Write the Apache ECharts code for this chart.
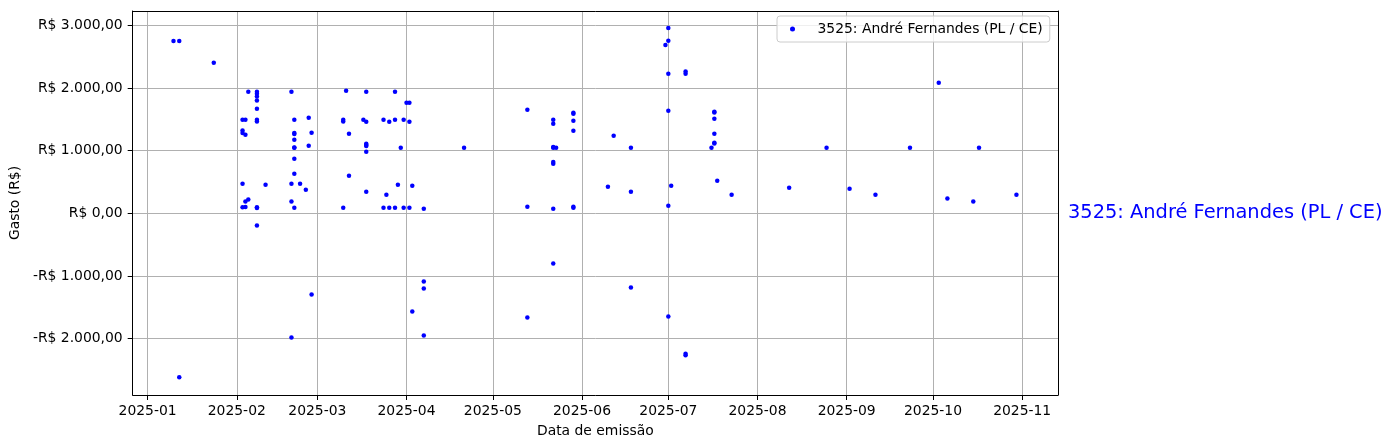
<!DOCTYPE html>
<html><head><meta charset="utf-8">
<script src="https://cdn.jsdelivr.net/npm/echarts@6/dist/echarts.min.js"></script>
<style>html,body{margin:0;padding:0;background:#fff}#c{width:1392px;height:448px}</style>
</head><body><div id="c"></div>
<script>
const seriesName = '3525: André Fernandes (PL / CE)';
const xAxisTitle = 'Data de emissão';
const yAxisTitle = 'Gasto (R$)';

const emissionDates = [
  '2025-01-10','2025-01-12','2025-01-12','2025-01-24',
  '2025-02-03','2025-02-03','2025-02-03','2025-02-03','2025-02-03',
  '2025-02-04','2025-02-04','2025-02-04','2025-02-04',
  '2025-02-05','2025-02-05',
  '2025-02-08','2025-02-08','2025-02-08','2025-02-08','2025-02-08','2025-02-08','2025-02-08','2025-02-08','2025-02-08','2025-02-08',
  '2025-02-11',
  '2025-02-20','2025-02-20','2025-02-20','2025-02-20',
  '2025-02-21','2025-02-21','2025-02-21','2025-02-21','2025-02-21','2025-02-21','2025-02-21','2025-02-21','2025-02-21',
  '2025-02-23','2025-02-25','2025-02-26','2025-02-26','2025-02-27','2025-02-27',
  '2025-03-10','2025-03-10','2025-03-10','2025-03-11','2025-03-12','2025-03-12','2025-03-17',
  '2025-03-18','2025-03-18','2025-03-18','2025-03-18','2025-03-18','2025-03-18','2025-03-18',
  '2025-03-24','2025-03-24','2025-03-25','2025-03-26','2025-03-26',
  '2025-03-28','2025-03-28','2025-03-28','2025-03-29','2025-03-30','2025-03-31','2025-03-31',
  '2025-04-01','2025-04-02','2025-04-02','2025-04-02','2025-04-03','2025-04-03',
  '2025-04-07','2025-04-07','2025-04-07','2025-04-07','2025-04-21',
  '2025-05-13','2025-05-13','2025-05-13',
  '2025-05-22','2025-05-22','2025-05-22','2025-05-22','2025-05-22','2025-05-22','2025-05-22','2025-05-22','2025-05-23',
  '2025-05-29','2025-05-29','2025-05-29','2025-05-29','2025-05-29','2025-05-29',
  '2025-06-10','2025-06-12','2025-06-18','2025-06-18','2025-06-18','2025-06-30',
  '2025-07-01','2025-07-01','2025-07-01','2025-07-01','2025-07-01','2025-07-01','2025-07-02',
  '2025-07-07','2025-07-07','2025-07-07','2025-07-07','2025-07-16',
  '2025-07-17','2025-07-17','2025-07-17','2025-07-17','2025-07-17','2025-07-17',
  '2025-07-18','2025-07-23','2025-08-12','2025-08-25','2025-09-02','2025-09-11','2025-09-23',
  '2025-10-03','2025-10-06','2025-10-15','2025-10-17','2025-10-30'
];
const spendValues = [
  2750,2750,-2618,2400,
  1492,1322,1280,473,96,
  1492,1253,186,101,
  1938,218,
  1938,1906,1864,1800,1667,1492,1466,96,85,-196,
  457,
  1938,473,186,-1981,
  1492,1280,1264,1174,1051,1046,871,632,90,
  473,377,1524,1078,1285,-1296,
  1492,1466,90,1954,600,1269,1492,
  1938,1460,1110,1089,1073,982,345,
  1492,90,297,1460,90,
  1938,1492,90,457,1046,1492,90,
  1763,1763,1460,90,441,-1566,
  74,-1089,-1200,-1949,1046,
  1651,106,-1662,
  1492,1428,1057,1046,818,791,74,-802,1046,
  1603,1588,1476,1317,106,90,
  425,1237,1046,345,-1184,2687,
  2958,2751,2225,1635,122,-1646,441,
  2262,2225,-2240,-2265,1046,
  1620,1610,1508,1269,1126,1115,
  520,297,409,1046,393,297,1046,
  2082,234,186,1046,297
];
const yTickValues = [-2000,-1000,0,1000,2000,3000];

const DAY = 86400000;
function ts(s){ const p = s.split('-').map(Number); return new Date(p[0], p[1]-1, p[2] || 1).getTime(); }
const points = emissionDates.map((d,i) => [ts(d), spendValues[i]]);
const xMin = ts('2025-01-01') - 5.19*DAY;
const xMax = ts('2025-01-01') + 316.45*DAY;
const yMin = -2899.5, yMax = 3227.6;

function brl(v){
  const a = Math.abs(v);
  const s = a.toFixed(2).split('.');
  const int = s[0].replace(/\B(?=(\d{3})+(?!\d))/g, '.');
  return (v < 0 ? '-R$ ' : 'R$ ') + int + ',' + s[1];
}
function ym(v){ const d = new Date(v); return d.getFullYear() + '-' + String(d.getMonth()+1).padStart(2,'0'); }

const FONT = 'DejaVu Sans';
const chart = echarts.init(document.getElementById('c'), null, {renderer:'canvas'});
chart.setOption({
  animation: false,
  backgroundColor: '#fff',
  grid: { left: 128, right: 334, top: 11, bottom: 53, containLabel: false },
  legend: {
    data: [{ name: seriesName, icon: 'circle' }],
    left: 777, top: 16,
    padding: [5, 7, 5, 13],
    itemWidth: 10, itemHeight: 5,
    backgroundColor: 'rgba(255,255,255,0.8)',
    borderColor: '#cccccc', borderWidth: 1, borderRadius: 3,
    textStyle: { fontFamily: FONT, fontSize: 13.9, color: '#000', lineHeight: 16, padding: [0,0,0,15] }
  },
  xAxis: [{
    type: 'time', min: xMin, max: xMax,
    name: xAxisTitle, nameLocation: 'middle', nameGap: 29,
    nameTextStyle: { fontFamily: FONT, fontSize: 13.9, color: '#000' },
    axisLine: { onZero: false, lineStyle: { color: '#000', width: 1 } },
    axisTick: { show: true, length: 5, lineStyle: { color: '#000' } },
    axisLabel: { fontFamily: FONT, fontSize: 13.9, color: '#000', margin: 9, formatter: ym, hideOverlap: false, showMinLabel: false, showMaxLabel: false },
    splitLine: { show: true, lineStyle: { color: '#b0b0b0', width: 1 } },
    minInterval: 28*DAY, maxInterval: 31*DAY, splitNumber: 11
  },{
    type: 'time', position: 'top', min: xMin, max: xMax,
    axisLine: { onZero: false, lineStyle: { color: '#000', width: 1 } },
    axisTick: { show: false }, axisLabel: { show: false }, splitLine: { show: false }
  }],
  yAxis: [{
    type: 'value', min: yMin, max: yMax,
    name: yAxisTitle, nameLocation: 'middle', nameGap: 105, nameRotate: 90,
    nameTextStyle: { fontFamily: FONT, fontSize: 13.9, color: '#000' },
    axisLine: { show: true, onZero: false, lineStyle: { color: '#000', width: 1 } },
    axisTick: { show: true, length: 5, lineStyle: { color: '#000' }, customValues: yTickValues },
    axisLabel: { fontFamily: FONT, fontSize: 13.9, color: '#000', margin: 10, formatter: brl, customValues: yTickValues },
    splitLine: { show: true, lineStyle: { color: '#b0b0b0', width: 1 } }
  },{
    type: 'value', position: 'right', min: yMin, max: yMax,
    axisLine: { show: true, onZero: false, lineStyle: { color: '#000', width: 1 } },
    axisTick: { show: false }, axisLabel: { show: false }, splitLine: { show: false }
  }],
  graphic: [{
    type: 'text', x: 1068, y: 212.5, silent: true,
    style: { text: seriesName, fill: '#0000ff', fontFamily: FONT, fontSize: 19.4, align: 'left', verticalAlign: 'middle' }
  }],
  series: [{
    name: seriesName, type: 'scatter', data: points,
    symbol: 'circle', symbolSize: 4.5,
    itemStyle: { color: '#0000ff', opacity: 1 }
  }]
});
</script></body></html>
